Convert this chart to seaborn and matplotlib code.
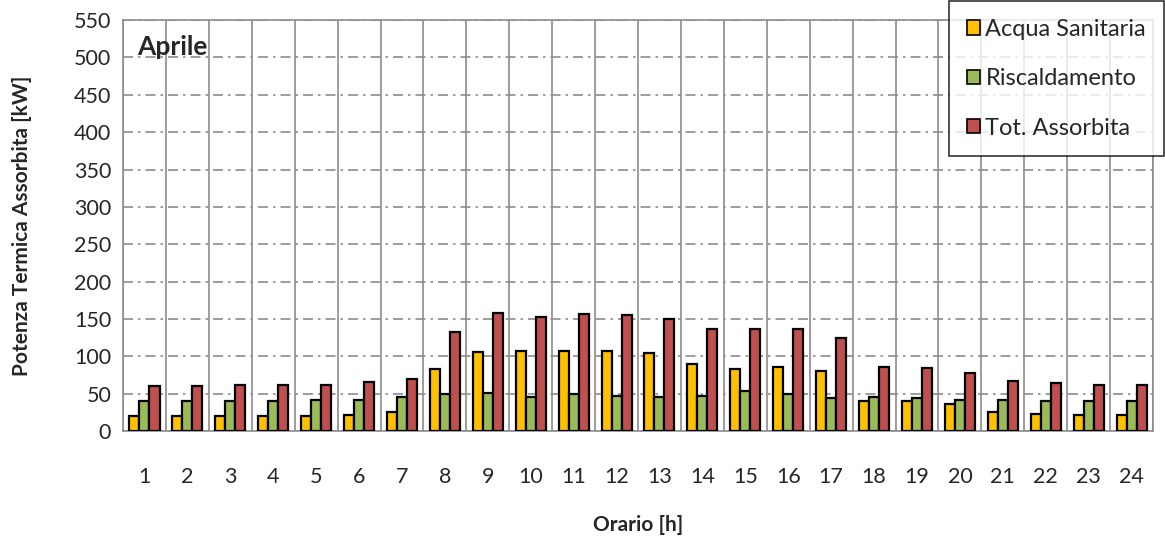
import numpy as np
import pandas as pd
import seaborn as sns
import matplotlib.pyplot as plt
from matplotlib.ticker import MultipleLocator, FixedLocator

ore = list(range(1, 25))
acqua_sanitaria = [20, 20, 20, 20, 20, 22, 25, 83, 106, 107, 107, 107, 104, 90, 83, 86,
                   80, 40, 40, 36, 25, 23, 21, 21]
riscaldamento = [40, 40, 40, 40, 41, 41, 45, 50, 51, 45, 49, 47, 45, 47, 53, 50,
                 44, 45, 44, 41, 41, 40, 40, 40]
tot_assorbita = [60, 60, 61, 61, 62, 65, 70, 133, 158, 153, 156, 155, 150, 137, 136, 136,
                 125, 85, 84, 78, 67, 64, 62, 61]

serie = ["Acqua Sanitaria", "Riscaldamento", "Tot. Assorbita"]
colori = ["#FFC000", "#9BBB59", "#C0504D"]

df = pd.DataFrame({
    "Orario": ore * 3,
    "Potenza": acqua_sanitaria + riscaldamento + tot_assorbita,
    "Serie": [serie[0]] * 24 + [serie[1]] * 24 + [serie[2]] * 24,
})

sns.set_style("white")
plt.rcParams["font.family"] = ["Lato", "DejaVu Sans"]

fig = plt.figure(figsize=(11.65, 5.43), dpi=100)
ax = fig.add_axes([0.1056, 0.2063, 0.8841, 0.7567])

sns.barplot(data=df, x="Orario", y="Potenza", hue="Serie", palette=colori, saturation=1,
            width=0.7, edgecolor="black", linewidth=1.6, ax=ax, zorder=3)

ax.set_ylim(0, 550)
ax.set_xlim(-0.5, 23.5)
ax.yaxis.set_major_locator(MultipleLocator(50))
ax.grid(axis="y", which="major", color="#8c8c8c", linestyle=(0, (6, 3, 1.5, 3)), linewidth=1.2, zorder=0)
ax.xaxis.set_minor_locator(FixedLocator(np.arange(-0.5, 24, 1)))
ax.grid(axis="x", which="minor", color="#8c8c8c", linestyle="-", linewidth=1.2, zorder=0)
ax.grid(axis="x", which="major", visible=False)

ax.tick_params(axis="x", which="major", direction="out", length=6, width=1.2, color="#8c8c8c",
               pad=20, labelsize=15.5)
ax.tick_params(axis="x", which="minor", length=0)
ax.tick_params(axis="y", direction="out", length=5, width=1.2, color="#8c8c8c", labelsize=15.5)

for s in ax.spines.values():
    s.set_color("#8c8c8c")
    s.set_linewidth(1.2)

ax.set_xlabel("Orario [h]", fontsize=15, fontweight="bold", labelpad=20)
ax.set_ylabel("Potenza Termica Assorbita [kW]", fontsize=15, fontweight="bold", labelpad=30)

ax.text(0.014, 0.935, "Aprile", transform=ax.transAxes, fontsize=19, fontweight="bold",
        va="center", ha="left")

leg = ax.legend(loc="upper right", bbox_to_anchor=(1.0, 1.0), bbox_transform=fig.transFigure,
                fontsize=17, frameon=True, fancybox=False, edgecolor="black",
                handlelength=0.55, handleheight=0.55, handletextpad=0.25,
                labelspacing=1.2, borderpad=0.75, borderaxespad=0.05)
leg.get_frame().set_linewidth(1.2)
for h in leg.legend_handles:
    h.set_edgecolor("black")
    h.set_linewidth(1.2)

fig.savefig("out.png", dpi=100)
